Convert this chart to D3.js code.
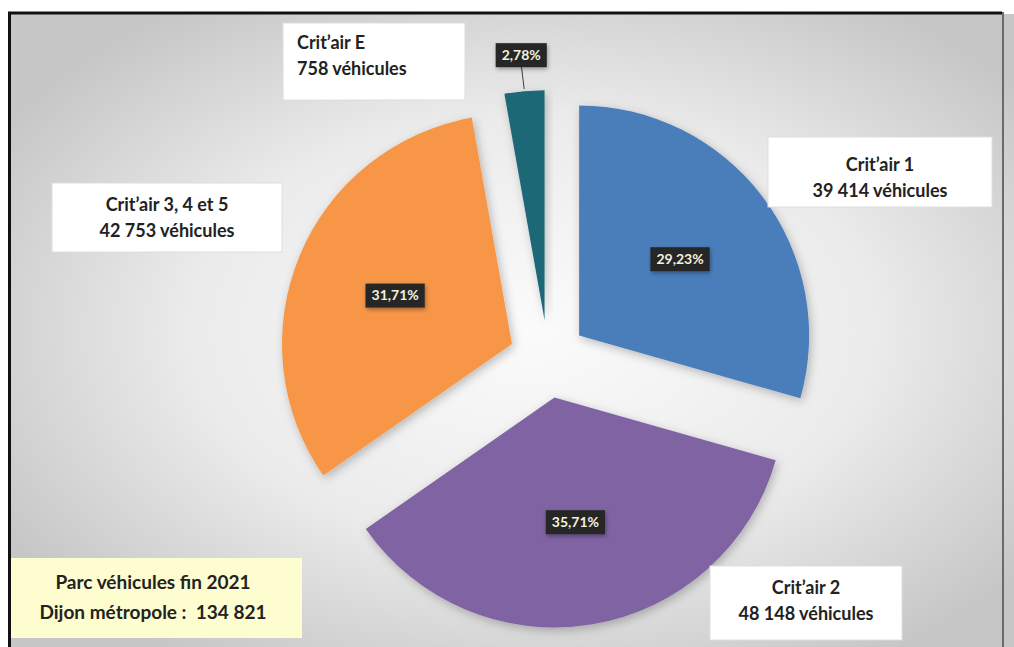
<!DOCTYPE html>
<html>
<head>
<meta charset="utf-8">
<script src="https://cdn.jsdelivr.net/npm/d3@7"></script>
<style>
  html, body { margin: 0; padding: 0; background: #fff; }
  svg { display: block; font-family: Lato, "Open Sans", sans-serif; }
</style>
</head>
<body>
<svg id="chart" width="1014" height="647"></svg>
<script>
// data
const categories = ["Crit’air 1", "Crit’air 2", "Crit’air 3, 4 et 5", "Crit’air E"];
const vehicles = ["39 414 véhicules", "48 148 véhicules", "42 753 véhicules", "758 véhicules"];
const shares = [29.23, 35.71, 31.71, 2.78];
const shareLabels = ["29,23%", "35,71%", "31,71%", "2,78%"];
const colors = ["#4a7ebb", "#8064a2", "#f79646", "#1d6877"];
const totalLines = ["Parc véhicules fin 2021", "Dijon métropole :\u00a0\u00a0134 821"];

let width = 1014, height = 647;
let cx = 548, cy = 359;
let radius = 230;
let explode = 39;

let svg = d3.select("#chart");
let defs = svg.append("defs");

// grey radial background like the office chart area
let grad = defs.append("radialGradient")
    .attr("id", "bg")
    .attr("cx", "52%").attr("cy", "50%").attr("r", "62%");
grad.append("stop").attr("offset", "0%").attr("stop-color", "#fbfbfb");
grad.append("stop").attr("offset", "55%").attr("stop-color", "#ebebeb");
grad.append("stop").attr("offset", "100%").attr("stop-color", "#c6c6c6");

let shadow = defs.append("filter")
    .attr("id", "shadow")
    .attr("x", "-20%").attr("y", "-20%").attr("width", "140%").attr("height", "140%");
shadow.append("feDropShadow")
    .attr("dx", 2).attr("dy", 3)
    .attr("stdDeviation", 5)
    .attr("flood-color", "#000")
    .attr("flood-opacity", 0.25);

let soft = defs.append("filter")
    .attr("id", "soft")
    .attr("x", "-20%").attr("y", "-40%").attr("width", "140%").attr("height", "180%");
soft.append("feDropShadow")
    .attr("dx", 1).attr("dy", 2)
    .attr("stdDeviation", 2)
    .attr("flood-color", "#000")
    .attr("flood-opacity", 0.35);

// frame
svg.append("rect")
    .attr("x", 10).attr("y", 14)
    .attr("width", width - 10).attr("height", height - 14)
    .attr("fill", "url(#bg)");
svg.append("line")
    .attr("x1", 8).attr("x2", 1002).attr("y1", 13).attr("y2", 13)
    .attr("stroke", "#111").attr("stroke-width", 3);
svg.append("line")
    .attr("x1", 9.5).attr("x2", 9.5).attr("y1", 12).attr("y2", height)
    .attr("stroke", "#111").attr("stroke-width", 3);
svg.append("line")
    .attr("x1", 1003).attr("x2", 1003).attr("y1", 12).attr("y2", height)
    .attr("stroke", "#6a6a6a").attr("stroke-width", 2);

let pie = d3.pie().sort(null).value(function(d) { return d; });
let arcs = pie(shares);

let arc = d3.arc().innerRadius(0).outerRadius(radius);
let labelArc = d3.arc().innerRadius(radius * 1.0).outerRadius(radius * 0.1);

function offset(d) {
    let a = (d.startAngle + d.endAngle) / 2;
    return [Math.sin(a) * explode, -Math.cos(a) * explode];
}

let slices = svg.append("g")
    .attr("class", "slices")
    .attr("transform", "translate(" + cx + "," + cy + ")");

slices.selectAll("path")
    .data(arcs)
    .enter().append("path")
    .attr("d", arc)
    .attr("fill", function(d, i) { return colors[i]; })
    .attr("filter", "url(#shadow)")
    .attr("transform", function(d) {
        let o = offset(d);
        return "translate(" + o[0] + "," + o[1] + ")";
    });

// percentage labels
let labels = svg.append("g")
    .attr("class", "labels")
    .attr("transform", "translate(" + cx + "," + cy + ")");

arcs.forEach(function(d, i) {
    let o = offset(d);
    let a = (d.startAngle + d.endAngle) / 2;
    let x, y;
    if (i === 3) {
        // small slice: label sits outside with a leader line
        let rr = radius + 36;
        x = o[0] + Math.sin(a) * rr;
        y = o[1] - Math.cos(a) * rr;
        let r0 = radius + 2;
        labels.append("line")
            .attr("x1", x).attr("y1", y + 10)
            .attr("x2", o[0] + Math.sin(a) * r0)
            .attr("y2", o[1] - Math.cos(a) * r0)
            .attr("stroke", "#404040").attr("stroke-width", 1);
    } else {
        let c = labelArc.centroid(d);
        x = o[0] + c[0];
        y = o[1] + c[1];
    }
    let g = labels.append("g").attr("transform", "translate(" + x + "," + y + ")");
    let t = g.append("text")
        .attr("text-anchor", "middle")
        .attr("dy", "0.35em")
        .attr("fill", "#f3f1de")
        .attr("font-size", 14)
        .attr("font-weight", "bold")
        .text(shareLabels[i]);
    let bb = t.node().getBBox();
    g.insert("rect", "text")
        .attr("x", bb.x - 6).attr("y", -12)
        .attr("width", bb.width + 12).attr("height", 24)
        .attr("fill", "#262626")
        .attr("filter", "url(#soft)");
});

// callout boxes (layout of the text boxes around the pie)
let callouts = [
    {i: 0, x: 768, y: 137, w: 224, h: 70, top: 28, anchor: "middle"},
    {i: 1, x: 710, y: 566, w: 192, h: 74, top: 22, anchor: "middle"},
    {i: 2, x: 52, y: 183, w: 230, h: 69, top: 22, anchor: "middle"},
    {i: 3, x: 283, y: 23, w: 182, h: 77, top: 20, anchor: "start"}
];

let boxes = svg.append("g").attr("class", "callouts");
callouts.forEach(function(c) {
    boxes.append("rect")
        .attr("x", c.x).attr("y", c.y)
        .attr("width", c.w).attr("height", c.h)
        .attr("fill", "#ffffff")
        .attr("stroke", "#dedede").attr("stroke-width", 1);
    let tx = c.anchor === "middle" ? c.x + c.w / 2 : c.x + 14;
    let lines = [categories[c.i], vehicles[c.i]];
    lines.forEach(function(l, k) {
        boxes.append("text")
            .attr("x", tx)
            .attr("y", c.y + c.top + k * 26)
            .attr("dy", "0.35em")
            .attr("text-anchor", c.anchor)
            .attr("font-size", 18)
            .attr("font-weight", "bold")
            .attr("fill", "#222")
            .text(l);
    });
});

// total box
let tb = svg.append("g").attr("class", "total");
tb.append("rect")
    .attr("x", 11).attr("y", 558)
    .attr("width", 291).attr("height", 80)
    .attr("fill", "#fdfdcf");
totalLines.forEach(function(l, k) {
    tb.append("text")
        .attr("x", 153)
        .attr("y", 582 + k * 30)
        .attr("dy", "0.35em")
        .attr("text-anchor", "middle")
        .attr("font-size", 19)
        .attr("font-weight", "bold")
        .attr("fill", "#222")
        .text(l);
});
</script>
</body>
</html>
